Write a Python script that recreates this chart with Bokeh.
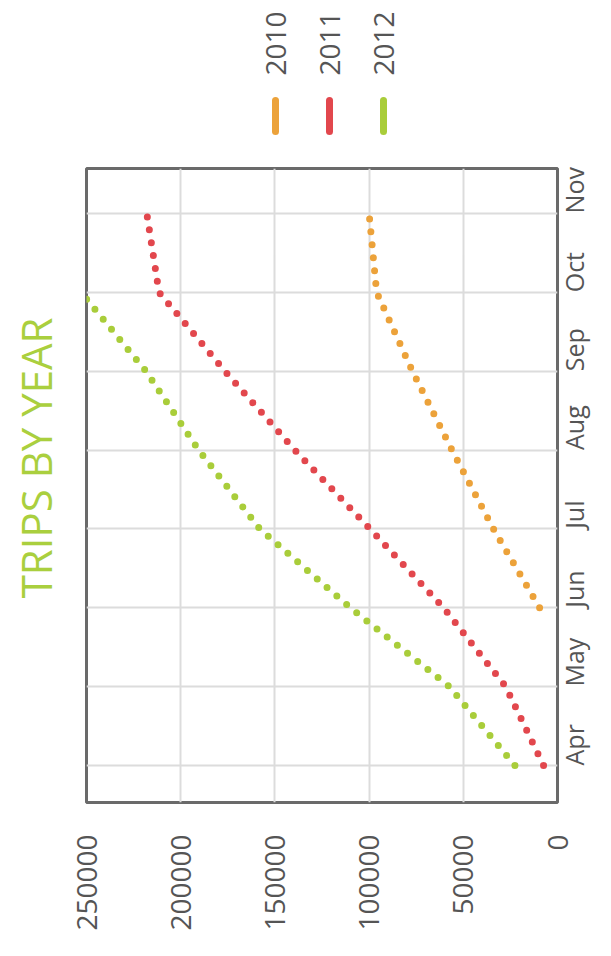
import math

from bokeh.core.properties import value
from bokeh.embed import file_html
from bokeh.layouts import column, row
from bokeh.models import FixedTicker, Range1d
from bokeh.plotting import figure
from bokeh.resources import INLINE

# Monthly cumulative trip counts per season (None = no data that month)
months = ["Apr", "May", "Jun", "Jul", "Aug", "Sep", "Oct", "Nov"]
years = ["2010", "2011", "2012"]
trips_2010 = [None, None, 9500, 34000, 56000, 77000, 96000, 100000]
trips_2011 = [7400, 27500, 60500, 99500, 139500, 176500, 211500, 218000]
trips_2012 = [22600, 57400, 110000, 158000, 190500, 218400, 253000, None]
value_ticks = [0, 50000, 100000, 150000, 200000, 250000]
title_text = "TRIPS BY YEAR"

series = [trips_2010, trips_2011, trips_2012]
colors = ["#eca23a", "#e2474d", "#a9cd3a"]

FONT = "Open Sans"
LABEL_COLOR = "#555555"
W = 611
LEGEND_H = 160
MAIN_H = 796
FRAME_L, FRAME_R = 86, 561
TITLE_W = 68
BORDER_TOP, BORDER_BOTTOM = 8, 154


def bare(fig):
    fig.axis.visible = False
    fig.grid.visible = False
    fig.outline_line_color = None
    return fig


# ---- legend strip (rotated labels with short colour bars) ----
leg = bare(figure(width=W, height=LEGEND_H, output_backend="svg", toolbar_location=None,
                  x_range=Range1d(FRAME_L, FRAME_R), y_range=Range1d(LEGEND_H, 0),
                  min_border_left=FRAME_L, min_border_right=W - FRAME_R,
                  min_border_top=0, min_border_bottom=0))
leg_x = [275 + 54 * i for i in range(len(years))]
leg.text(x=leg_x, y=[75] * len(years), text=years, angle=math.pi / 2,
         text_align="left", text_baseline="middle",
         text_font=value(FONT), text_font_size="28px", text_color=LABEL_COLOR)
leg.segment(x0=leg_x, y0=[100] * len(years), x1=leg_x, y1=[131] * len(years),
            line_color=colors, line_width=7, line_cap="round")

# ---- main chart, drawn turned on its side ----
y_range = Range1d(-0.47, 7.57)
p = figure(width=W - TITLE_W, height=MAIN_H, output_backend="svg", toolbar_location=None,
           x_range=Range1d(250000, 0), y_range=y_range,
           y_axis_location="right",
           min_border_left=FRAME_L - TITLE_W, min_border_right=W - FRAME_R,
           min_border_top=BORDER_TOP, min_border_bottom=BORDER_BOTTOM)
p.background_fill_color = "white"
p.outline_line_color = "#6a6a6a"
p.outline_line_width = 3

for ax in (p.xaxis[0], p.yaxis[0]):
    ax.axis_line_color = None
    ax.major_tick_line_color = None
    ax.minor_tick_line_color = None
    ax.major_label_text_font = FONT
    ax.major_label_text_color = LABEL_COLOR
    ax.major_label_orientation = math.pi / 2

p.xaxis.ticker = FixedTicker(ticks=value_ticks)
p.xaxis.major_label_overrides = {v: str(v) for v in value_ticks}
p.xaxis.major_label_text_font_size = "28px"
p.xaxis.major_label_standoff = 26

p.yaxis.ticker = FixedTicker(ticks=list(range(len(months))))
p.yaxis.major_label_overrides = {i: m for i, m in enumerate(months)}
p.yaxis.major_label_text_font_size = "25px"
p.yaxis.major_label_standoff = 11

p.xgrid.grid_line_color = "#dcdcdc"
p.xgrid.grid_line_width = 2
p.ygrid.grid_line_color = "#dcdcdc"
p.ygrid.grid_line_width = 2

for vals, col in zip(series, colors):
    idx = [i for i, v in enumerate(vals) if v is not None]
    p.line(x=[vals[i] for i in idx], y=idx, line_color=col, line_width=7,
           line_dash="0 13", line_cap="round")

# ---- title strip on the left, text reading upwards ----
tfig = bare(figure(width=TITLE_W, height=MAIN_H, output_backend="svg",
                   toolbar_location=None, x_range=Range1d(0, TITLE_W), y_range=y_range,
                   min_border_left=0, min_border_right=0,
                   min_border_top=BORDER_TOP, min_border_bottom=BORDER_BOTTOM))
tfig.text(x=[35], y=[3.9], text=[title_text], angle=math.pi / 2,
          text_align="center", text_baseline="middle",
          text_font=value(FONT), text_font_size="42px", text_color="#aacf3e")

layout = column(leg, row(tfig, p, spacing=0), spacing=0)
open("out.html", "w").write(file_html(layout, INLINE))
